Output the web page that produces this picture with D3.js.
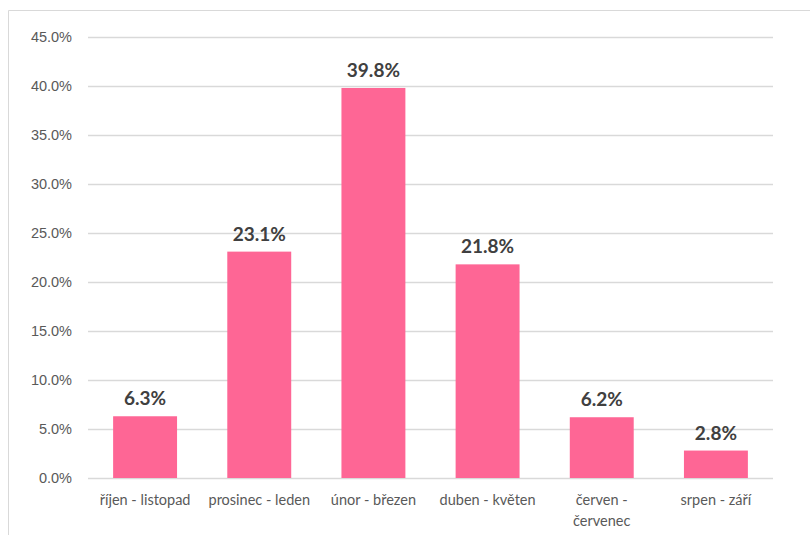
<!DOCTYPE html>
<html>
<head>
<meta charset="utf-8">
<script src="https://cdn.jsdelivr.net/npm/d3@7"></script>
<style>
  body { margin: 0; background: #fff; }
  svg { display: block; font-family: Lato, "Open Sans", sans-serif; }
</style>
</head>
<body>
<div id="root"></div>
<script>
const categories = [
  "říjen - listopad",
  "prosinec - leden",
  "únor - březen",
  "duben - květen",
  "červen - červenec",
  "srpen - září",
];
const shares = [6.3, 23.1, 39.8, 21.8, 6.2, 2.8];
const tickValues = [0, 5, 10, 15, 20, 25, 30, 35, 40, 45];

const width = 810;
const height = 535;
const margin = { top: 37, right: 37, bottom: 57, left: 88 };
const innerWidth = width - margin.left - margin.right;
const innerHeight = height - margin.top - margin.bottom;

const data = categories.map((c, i) => ({ category: c, value: shares[i] }));

const svg = d3
  .select("#root")
  .append("svg")
  .attr("width", width)
  .attr("height", height);

// chart frame (runs off the right and bottom edges like the screenshot)
svg
  .append("path")
  .attr("d", `M8.5,${height} V10.5 H${width}`)
  .attr("fill", "none")
  .attr("stroke", "#d9d9d9");

const xScale = d3
  .scaleBand()
  .domain(categories)
  .range([0, innerWidth])
  .paddingInner(0.44)
  .paddingOuter(0.22);

const yScale = d3.scaleLinear().domain([0, 45]).range([innerHeight, 0]);

const innerChart = svg
  .append("g")
  .attr("transform", `translate(${margin.left}, ${margin.top})`);

// grid + y axis
const leftAxis = d3
  .axisLeft(yScale)
  .tickValues(tickValues)
  .tickSize(-innerWidth)
  .tickPadding(16)
  .tickFormat((d) => d3.format(".1f")(d) + "%");

const yAxis = innerChart.append("g").call(leftAxis);
yAxis.select(".domain").remove();
yAxis.selectAll("line").attr("stroke", "#d9d9d9").attr("stroke-width", 1.3);
yAxis
  .selectAll("text")
  .attr("fill", "#595959")
  .style("font-size", "14.5px");

// bars
innerChart
  .selectAll(".bar")
  .data(data)
  .join("rect")
  .attr("class", "bar")
  .attr("x", (d) => xScale(d.category))
  .attr("width", xScale.bandwidth())
  .attr("y", (d) => yScale(d.value))
  .attr("height", (d) => innerHeight - yScale(d.value))
  .attr("fill", "#fe6695");

// value labels
innerChart
  .selectAll(".value")
  .data(data)
  .join("text")
  .attr("class", "value")
  .attr("x", (d) => xScale(d.category) + xScale.bandwidth() / 2)
  .attr("y", (d) => yScale(d.value) - 11)
  .attr("text-anchor", "middle")
  .attr("fill", "#404040")
  .style("font-size", "19px")
  .style("font-weight", 700)
  .text((d) => d3.format(".1f")(d.value) + "%");

// category labels
const wrapped = {
  "červen - červenec": ["červen -", "červenec"],
};
const catLabels = innerChart
  .selectAll(".cat")
  .data(data)
  .join("text")
  .attr("class", "cat")
  .attr("text-anchor", "middle")
  .attr("fill", "#595959")
  .style("font-size", "14.5px")
  .attr(
    "transform",
    (d) =>
      `translate(${xScale(d.category) + xScale.bandwidth() / 2}, ${innerHeight + 27})`
  );

catLabels
  .selectAll("tspan")
  .data((d) => wrapped[d.category] || [d.category])
  .join("tspan")
  .attr("x", 0)
  .attr("dy", (d, i) => (i === 0 ? 0 : 21))
  .text((d) => d);
</script>
</body>
</html>
